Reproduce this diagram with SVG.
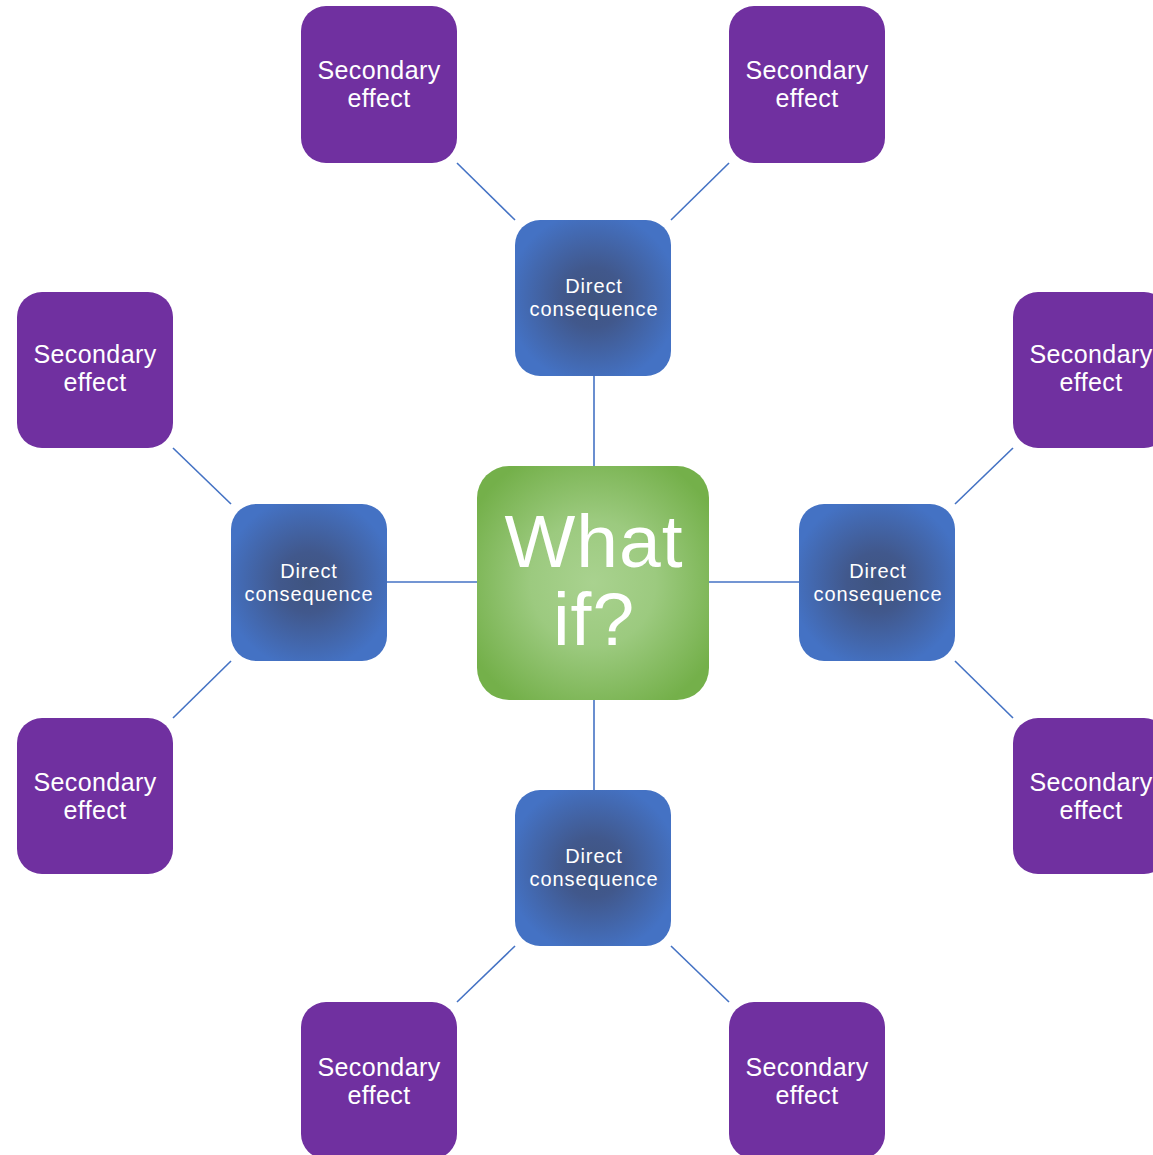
<svg xmlns="http://www.w3.org/2000/svg" width="1153" height="1155" viewBox="0 0 1153 1155">
<defs>
<radialGradient id="gBlue" cx="50%" cy="50%" r="55%">
<stop offset="0" stop-color="#3f5480"/>
<stop offset="0.35" stop-color="#41588c"/>
<stop offset="1" stop-color="#4472C4"/>
</radialGradient>
<radialGradient id="gGreen" cx="50%" cy="50%" r="60%">
<stop offset="0" stop-color="#a9d28f"/>
<stop offset="0.45" stop-color="#9cca7f"/>
<stop offset="1" stop-color="#74b04a"/>
</radialGradient>
<style>
.sec rect{fill:#7030A0}
.sec text{font-family:"Liberation Sans",Arial,sans-serif;font-size:25px;fill:#fff;text-anchor:middle;letter-spacing:0.4px}
.dir rect{fill:url(#gBlue)}
.dir text{font-family:"Liberation Sans",Arial,sans-serif;font-size:20px;fill:#fff;text-anchor:middle;letter-spacing:0.9px}
.ctr text{font-family:"Liberation Sans",Arial,sans-serif;font-size:75px;fill:#fff;text-anchor:middle;letter-spacing:1px}
.edges line{stroke:#4472C4;stroke-width:1.6}
</style>
</defs>
<rect width="1153" height="1155" fill="#fff"/>
<g class="edges" id="connectors">
<line x1="594" y1="376" x2="594" y2="466"/>
<line x1="594" y1="700" x2="594" y2="790"/>
<line x1="387" y1="582" x2="477" y2="582"/>
<line x1="709" y1="582" x2="799" y2="582"/>
<line x1="457" y1="163" x2="515" y2="220"/>
<line x1="729" y1="163" x2="671" y2="220"/>
<line x1="173" y1="448" x2="231" y2="504"/>
<line x1="173" y1="718" x2="231" y2="661"/>
<line x1="1013" y1="448" x2="955" y2="504"/>
<line x1="1013" y1="718" x2="955" y2="661"/>
<line x1="515" y1="946" x2="457" y2="1002"/>
<line x1="671" y1="946" x2="729" y2="1002"/>
</g>
<g id="center" class="ctr">
<rect x="477" y="466" width="232" height="234" rx="32" fill="url(#gGreen)"/>
<text x="594" y="567">What</text>
<text x="594" y="645">if?</text>
</g>
<g id="direct-top" class="dir"><rect x="515" y="220" width="156" height="156" rx="25"/><text x="594" y="293">Direct</text><text x="594" y="316">consequence</text></g>
<g id="direct-left" class="dir"><rect x="231" y="504" width="156" height="157" rx="25"/><text x="309" y="578">Direct</text><text x="309" y="601">consequence</text></g>
<g id="direct-right" class="dir"><rect x="799" y="504" width="156" height="157" rx="25"/><text x="878" y="578">Direct</text><text x="878" y="601">consequence</text></g>
<g id="direct-bottom" class="dir"><rect x="515" y="790" width="156" height="156" rx="25"/><text x="594" y="863">Direct</text><text x="594" y="886">consequence</text></g>
<g id="sec-top-left" class="sec"><rect x="301" y="6" width="156" height="157" rx="25"/><text x="379" y="79">Secondary</text><text x="379" y="107">effect</text></g>
<g id="sec-top-right" class="sec"><rect x="729" y="6" width="156" height="157" rx="25"/><text x="807" y="79">Secondary</text><text x="807" y="107">effect</text></g>
<g id="sec-left-upper" class="sec"><rect x="17" y="292" width="156" height="156" rx="25"/><text x="95" y="363">Secondary</text><text x="95" y="391">effect</text></g>
<g id="sec-left-lower" class="sec"><rect x="17" y="718" width="156" height="156" rx="25"/><text x="95" y="791">Secondary</text><text x="95" y="819">effect</text></g>
<g id="sec-right-upper" class="sec"><rect x="1013" y="292" width="156" height="156" rx="25"/><text x="1091" y="363">Secondary</text><text x="1091" y="391">effect</text></g>
<g id="sec-right-lower" class="sec"><rect x="1013" y="718" width="156" height="156" rx="25"/><text x="1091" y="791">Secondary</text><text x="1091" y="819">effect</text></g>
<g id="sec-bottom-left" class="sec"><rect x="301" y="1002" width="156" height="157" rx="25"/><text x="379" y="1076">Secondary</text><text x="379" y="1104">effect</text></g>
<g id="sec-bottom-right" class="sec"><rect x="729" y="1002" width="156" height="157" rx="25"/><text x="807" y="1076">Secondary</text><text x="807" y="1104">effect</text></g>
</svg>
